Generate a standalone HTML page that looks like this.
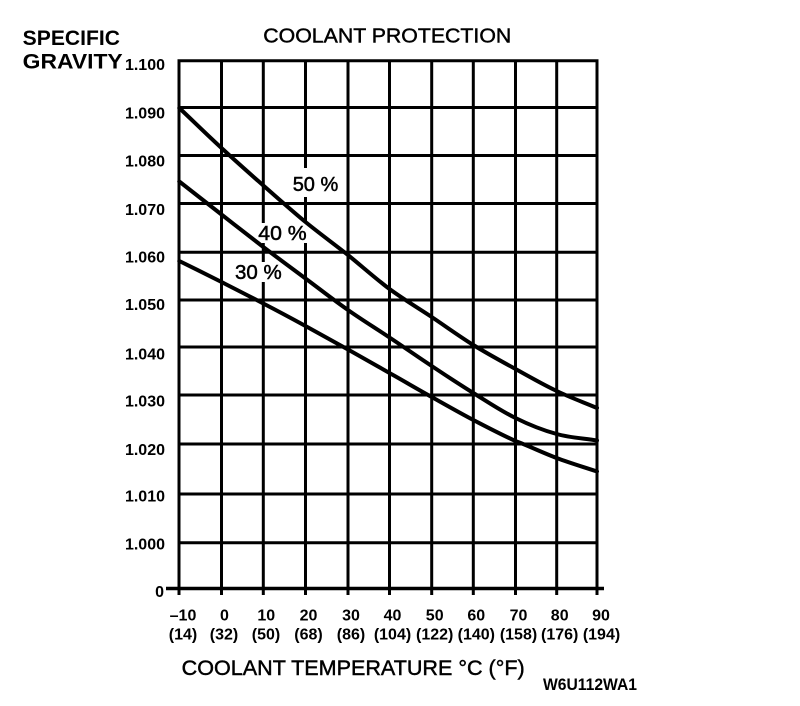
<!DOCTYPE html>
<html>
<head>
<meta charset="utf-8">
<style>
  html, body { margin: 0; padding: 0; background: #fff; }
  svg { display: block; }
  text { font-family: "Liberation Sans", Arial, sans-serif; fill: #000; }
  .yl { font-size: 16px; font-weight: bold; text-anchor: end; }
  .xl { font-size: 16px; font-weight: bold; text-anchor: middle; }
  .pct { font-size: 20px; stroke: #000; stroke-width: 0.5; }
  .reg { stroke: #000; stroke-width: 0.45; }
</style>
</head>
<body>
<svg width="800" height="706" viewBox="0 0 800 706" xmlns="http://www.w3.org/2000/svg">
  <rect x="0" y="0" width="800" height="706" fill="#fff"/>

  <g stroke="#000" stroke-width="3" fill="none">
    <line x1="179" y1="59.5" x2="179" y2="595"/>
    <line x1="221.5" y1="60.7" x2="221.5" y2="595"/>
    <line x1="263.3" y1="60.7" x2="263.3" y2="595"/>
    <line x1="305.5" y1="60.7" x2="305.5" y2="595"/>
    <line x1="348" y1="60.7" x2="348" y2="595"/>
    <line x1="389.5" y1="60.7" x2="389.5" y2="595"/>
    <line x1="431.7" y1="60.7" x2="431.7" y2="595"/>
    <line x1="473.3" y1="60.7" x2="473.3" y2="595"/>
    <line x1="515.5" y1="60.7" x2="515.5" y2="595"/>
    <line x1="556.7" y1="60.7" x2="556.7" y2="595"/>
    <line x1="597" y1="59.5" x2="597" y2="595"/>
    <line x1="177.5" y1="60.7" x2="598.5" y2="60.7"/>
    <line x1="179" y1="107.5" x2="597" y2="107.5"/>
    <line x1="179" y1="155.5" x2="597" y2="155.5"/>
    <line x1="179" y1="203.5" x2="597" y2="203.5"/>
    <line x1="179" y1="252.2" x2="597" y2="252.2"/>
    <line x1="179" y1="300" x2="597" y2="300"/>
    <line x1="179" y1="347" x2="597" y2="347"/>
    <line x1="179" y1="395" x2="597" y2="395"/>
    <line x1="179" y1="444" x2="597" y2="444"/>
    <line x1="179" y1="494" x2="597" y2="494"/>
    <line x1="179" y1="542.7" x2="597" y2="542.7"/>
    <line x1="166" y1="588.5" x2="604" y2="588.5" stroke-width="3.5"/>
  </g>

  <rect x="289" y="168" width="53" height="29" fill="#fff"/>
  <rect x="256" y="223" width="52" height="20" fill="#fff"/>
  <rect x="233" y="262" width="51" height="20" fill="#fff"/>

  <g stroke="#000" stroke-width="4" fill="none" stroke-linecap="round" stroke-linejoin="round">
    <path d="M179.3,108 C193.4,121.3 207.4,135.1 221.5,148 C235.4,160.9 249.4,173.2 263.3,185.5 C277.4,197.8 291.4,210.4 305.5,222 C319.7,233.6 333.8,243.8 348,255 C361.8,266.2 375.7,278.7 389.5,289 C403.6,299.3 417.6,307.7 431.7,317 C445.6,326.3 459.4,336.3 473.3,345 C487.4,353.7 501.4,361.3 515.5,369 C529.2,376.7 543,384.5 556.7,391 C570.1,397.5 583.6,402.3 597,408"/>
    <path d="M179.3,181.5 C193.4,192.5 207.4,203.6 221.5,214.5 C235.4,225.4 249.4,236.3 263.3,247 C277.4,257.7 291.4,268 305.5,278.5 C319.7,289 333.8,300.2 348,310 C361.8,319.8 375.7,328.2 389.5,337.5 C403.6,346.8 417.6,356.8 431.7,366 C445.6,375.3 459.4,384.3 473.3,393 C487.4,401.7 501.4,411.2 515.5,418 C529.2,424.8 543,430.3 556.7,434 C570.1,437.8 583.6,438.3 597,440.5"/>
    <path d="M179.3,261 C193.4,268 207.4,274.9 221.5,282 C235.4,289.1 249.4,296.2 263.3,303.5 C277.4,310.8 291.4,318.3 305.5,326 C319.7,333.7 333.8,341.7 348,349.5 C361.8,357.3 375.7,365.1 389.5,373 C403.6,380.9 417.6,389.2 431.7,397 C445.6,404.8 459.4,412.7 473.3,420 C487.4,427.3 501.4,434.7 515.5,441 C529.2,446.1 543,452.9 556.7,458 C570.1,463.1 583.6,467 597,471.5"/>
  </g>

  <text class="pct" x="292.7" y="191" textLength="45.6" lengthAdjust="spacingAndGlyphs">50 %</text>
  <text class="pct" x="258.3" y="240" textLength="48.4" lengthAdjust="spacingAndGlyphs">40 %</text>
  <text class="pct" x="235" y="279" textLength="46.7" lengthAdjust="spacingAndGlyphs">30 %</text>

  <text class="reg" x="263.3" y="42.3" font-size="20.5" textLength="248" lengthAdjust="spacingAndGlyphs">COOLANT PROTECTION</text>
  <text x="22.7" y="45" font-size="21" font-weight="bold" textLength="97.3" lengthAdjust="spacingAndGlyphs">SPECIFIC</text>
  <text x="22.7" y="68.3" font-size="21" font-weight="bold" textLength="100" lengthAdjust="spacingAndGlyphs">GRAVITY</text>
  <text class="reg" x="181.7" y="675" font-size="21" textLength="343" lengthAdjust="spacingAndGlyphs">COOLANT TEMPERATURE °C (°F)</text>
  <text x="543" y="690" font-size="16.5" font-weight="bold" textLength="94" lengthAdjust="spacingAndGlyphs">W6U112WA1</text>

  <text class="yl" x="165" y="70">1.100</text>
  <text class="yl" x="165" y="118.3">1.090</text>
  <text class="yl" x="165" y="166.7">1.080</text>
  <text class="yl" x="165" y="215">1.070</text>
  <text class="yl" x="165" y="262.7">1.060</text>
  <text class="yl" x="165" y="310">1.050</text>
  <text class="yl" x="165" y="359.3">1.040</text>
  <text class="yl" x="165" y="406.7">1.030</text>
  <text class="yl" x="165" y="455">1.020</text>
  <text class="yl" x="165" y="501.7">1.010</text>
  <text class="yl" x="165" y="549.3">1.000</text>
  <text class="yl" x="164" y="597">0</text>

  <text class="xl" x="183" y="620.5">–10</text>
  <text class="xl" x="224.5" y="620.5">0</text>
  <text class="xl" x="266.3" y="620.5">10</text>
  <text class="xl" x="308.5" y="620.5">20</text>
  <text class="xl" x="351" y="620.5">30</text>
  <text class="xl" x="392.5" y="620.5">40</text>
  <text class="xl" x="434.7" y="620.5">50</text>
  <text class="xl" x="476.3" y="620.5">60</text>
  <text class="xl" x="518.5" y="620.5">70</text>
  <text class="xl" x="559.7" y="620.5">80</text>
  <text class="xl" x="601" y="620.5">90</text>

  <text class="xl" x="183" y="639.5">(14)</text>
  <text class="xl" x="224" y="639.5">(32)</text>
  <text class="xl" x="266" y="639.5">(50)</text>
  <text class="xl" x="308.5" y="639.5">(68)</text>
  <text class="xl" x="351" y="639.5">(86)</text>
  <text class="xl" x="392.5" y="639.5">(104)</text>
  <text class="xl" x="434.7" y="639.5">(122)</text>
  <text class="xl" x="476.3" y="639.5">(140)</text>
  <text class="xl" x="518.5" y="639.5">(158)</text>
  <text class="xl" x="559.7" y="639.5">(176)</text>
  <text class="xl" x="601.5" y="639.5">(194)</text>
</svg>
</body>
</html>
